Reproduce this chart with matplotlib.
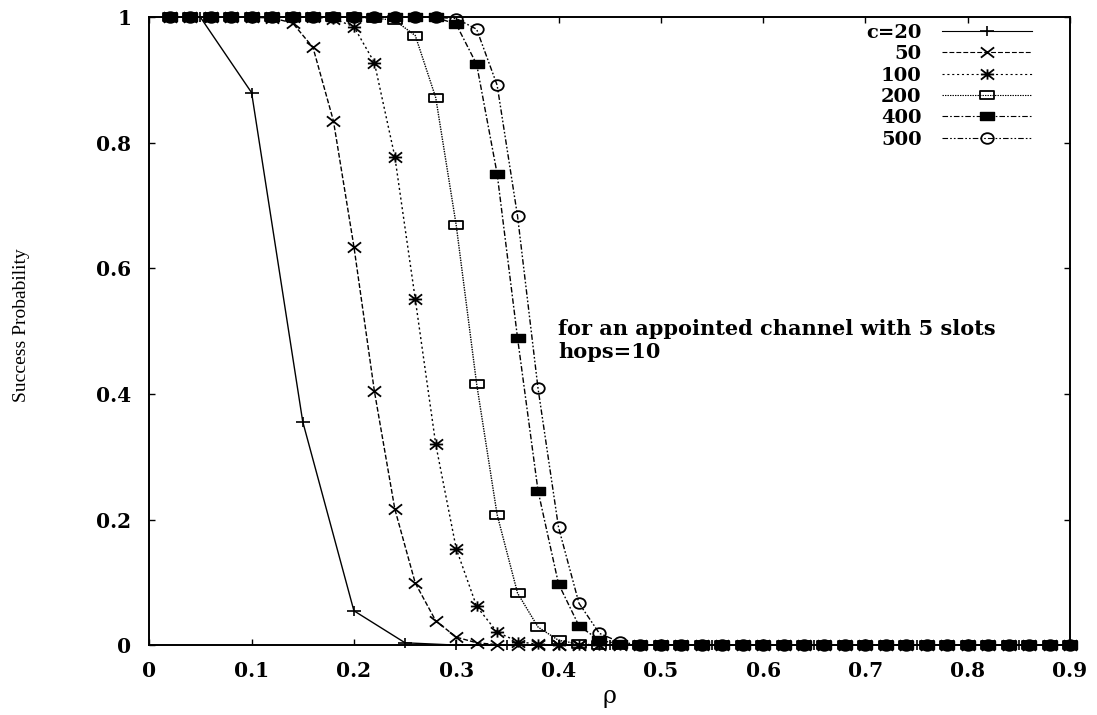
import numpy as np
import matplotlib
matplotlib.use("Agg")
import matplotlib.pyplot as plt
from matplotlib.path import Path
from matplotlib.transforms import Affine2D

# ---------------- data ----------------
rho_c20 = [0.05, 0.10, 0.15, 0.20, 0.25, 0.30, 0.35, 0.40, 0.45, 0.50,
           0.55, 0.60, 0.65, 0.70, 0.75, 0.80, 0.85, 0.90]
p_c20 = [1.0, 0.880, 0.356, 0.055, 0.004, 0.0003, 0.0, 0.0, 0.0, 0.0,
         0.0, 0.0, 0.0, 0.0, 0.0, 0.0, 0.0, 0.0]

rho = [0.02, 0.04, 0.06, 0.08, 0.10, 0.12, 0.14, 0.16, 0.18, 0.20,
       0.22, 0.24, 0.26, 0.28, 0.30, 0.32, 0.34, 0.36, 0.38, 0.40,
       0.42, 0.44, 0.46, 0.48, 0.50, 0.52, 0.54, 0.56, 0.58, 0.60,
       0.62, 0.64, 0.66, 0.68, 0.70, 0.72, 0.74, 0.76, 0.78, 0.80,
       0.82, 0.84, 0.86, 0.88, 0.90]

p_c50 = [1.0, 1.0, 1.0, 1.0, 1.0, 0.999, 0.991, 0.952, 0.835, 0.635,
         0.405, 0.217, 0.099, 0.039, 0.013, 0.004, 0.001, 0.0003, 0.0, 0.0,
         0.0, 0.0, 0.0, 0.0, 0.0, 0.0, 0.0, 0.0, 0.0, 0.0,
         0.0, 0.0, 0.0, 0.0, 0.0, 0.0, 0.0, 0.0, 0.0, 0.0,
         0.0, 0.0, 0.0, 0.0, 0.0]

p_c100 = [1.0, 1.0, 1.0, 1.0, 1.0, 1.0, 1.0, 1.0, 0.998, 0.985,
          0.928, 0.778, 0.551, 0.320, 0.154, 0.062, 0.021, 0.006, 0.0015, 0.0003,
          0.0, 0.0, 0.0, 0.0, 0.0, 0.0, 0.0, 0.0, 0.0, 0.0,
          0.0, 0.0, 0.0, 0.0, 0.0, 0.0, 0.0, 0.0, 0.0, 0.0,
          0.0, 0.0, 0.0, 0.0, 0.0]

p_c200 = [1.0, 1.0, 1.0, 1.0, 1.0, 1.0, 1.0, 1.0, 1.0, 1.0,
          0.999, 0.995, 0.971, 0.872, 0.669, 0.416, 0.208, 0.083, 0.029, 0.008,
          0.002, 0.0005, 0.0, 0.0, 0.0, 0.0, 0.0, 0.0, 0.0, 0.0,
          0.0, 0.0, 0.0, 0.0, 0.0, 0.0, 0.0, 0.0, 0.0, 0.0,
          0.0, 0.0, 0.0, 0.0, 0.0]

p_c400 = [1.0, 1.0, 1.0, 1.0, 1.0, 1.0, 1.0, 1.0, 1.0, 1.0,
          1.0, 1.0, 1.0, 1.0, 0.989, 0.925, 0.751, 0.489, 0.246, 0.098,
          0.031, 0.008, 0.002, 0.0004, 0.0, 0.0, 0.0, 0.0, 0.0, 0.0,
          0.0, 0.0, 0.0, 0.0, 0.0, 0.0, 0.0, 0.0, 0.0, 0.0,
          0.0, 0.0, 0.0, 0.0, 0.0]

p_c500 = [1.0, 1.0, 1.0, 1.0, 1.0, 1.0, 1.0, 1.0, 1.0, 1.0,
          1.0, 1.0, 1.0, 1.0, 0.998, 0.981, 0.892, 0.683, 0.409, 0.188,
          0.067, 0.019, 0.005, 0.001, 0.0002, 0.0, 0.0, 0.0, 0.0, 0.0,
          0.0, 0.0, 0.0, 0.0, 0.0, 0.0, 0.0, 0.0, 0.0, 0.0,
          0.0, 0.0, 0.0, 0.0, 0.0]

series_labels = ["c=20", "50", "100", "200", "400", "500"]
x_ticks = [0, 0.1, 0.2, 0.3, 0.4, 0.5, 0.6, 0.7, 0.8, 0.9]
x_tick_labels = ["0", "0.1", "0.2", "0.3", "0.4", "0.5", "0.6", "0.7", "0.8", "0.9"]
y_ticks = [0, 0.2, 0.4, 0.6, 0.8, 1.0]
y_tick_labels = ["0", "0.2", "0.4", "0.6", "0.8", "1"]

# ---------------- marker shapes (gnuplot-like, slightly stretched) ----------------
SX, SY = 1.0, 0.78
M, L = Path.MOVETO, Path.LINETO
plus_path = Path([(-SX, 0), (SX, 0), (0, -SY), (0, SY)], [M, L, M, L])
cross_path = Path([(-SX, -SY), (SX, SY), (-SX, SY), (SX, -SY)], [M, L, M, L])
star_path = Path([(-SX, 0), (SX, 0), (0, -SY), (0, SY),
                  (-SX, -SY), (SX, SY), (-SX, SY), (SX, -SY)],
                 [M, L, M, L, M, L, M, L])
rect_path = Path([(-1.0, -0.68), (1.0, -0.68), (1.0, 0.68), (-1.0, 0.68), (-1.0, -0.68)],
                 [M, L, L, L, Path.CLOSEPOLY])
ellipse_path = Path.unit_circle().transformed(Affine2D().scale(1.0, 0.85))

plt.rcParams["lines.scale_dashes"] = False

fig = plt.figure(figsize=(10.97, 7.15), dpi=100)
ax = fig.add_axes([149.3 / 1097, (715 - 645.3) / 715,
                   (1070.0 - 149.3) / 1097, (645.3 - 17.3) / 715])

lw = 1.0
common = dict(color="black", lw=lw, clip_on=False)
ax.plot(rho_c20, p_c20, linestyle="-", marker=plus_path, ms=9.5, mew=1.2,
        mfc="none", mec="black", label=series_labels[0], zorder=3, **common)
ax.plot(rho, p_c50, linestyle=(0, (3.5, 1.5)), marker=cross_path, ms=9.5, mew=1.3,
        mfc="none", mec="black", label=series_labels[1], zorder=4, **common)
ax.plot(rho, p_c100, linestyle=(0, (1.5, 2.0)), marker=star_path, ms=9.5, mew=1.3,
        mfc="none", mec="black", label=series_labels[2], zorder=5, **common)
ax.plot(rho, p_c200, linestyle=(0, (1.0, 0.8)), marker=rect_path, ms=9.5, mew=1.3,
        mfc="none", mec="black", label=series_labels[3], zorder=6, **common)
ax.plot(rho, p_c400, linestyle=(0, (4.0, 1.5, 1.2, 1.5)), marker=rect_path, ms=9.5, mew=1.0,
        mfc="black", mec="black", label=series_labels[4], zorder=8, **common)
ax.plot(rho, p_c500, linestyle=(0, (4.0, 1.5, 1.2, 1.5, 1.2, 1.5)), marker=ellipse_path,
        ms=9.0, mew=1.3, mfc="none", mec="black", label=series_labels[5], zorder=7, **common)

ax.set_xlim(0, 0.9)
ax.set_ylim(0, 1)
ax.set_xticks(x_ticks)
ax.set_xticklabels(x_tick_labels)
ax.set_yticks(y_ticks)
ax.set_yticklabels(y_tick_labels)

for t in ax.get_xticklabels() + ax.get_yticklabels():
    t.set_fontfamily("DejaVu Serif")
    t.set_fontweight("bold")
    t.set_fontsize(14.5)

ax.tick_params(axis="both", which="major", direction="in", length=4, width=1.0,
               top=True, right=True, colors="black")
ax.tick_params(axis="x", pad=11)
ax.tick_params(axis="y", pad=13)
for s in ax.spines.values():
    s.set_linewidth(1.4)
    s.set_color("black")

ax.set_xlabel("ρ", fontfamily="DejaVu Serif", fontsize=17)
ax.xaxis.set_label_coords(0.5, (645.3 - 703) / 628.0)
ax.xaxis.label.set_verticalalignment("baseline")

ax.set_ylabel("Success Probability", fontfamily="Liberation Serif", fontsize=14)
ax.yaxis.set_label_coords((22 - 149.3) / 920.7, 0.51)
ax.yaxis.label.set_verticalalignment("center")

ann_font = dict(fontfamily="DejaVu Serif", fontweight="bold", fontsize=15)
ax.text(0.4, 0.494, "for an appointed channel with 5 slots", va="baseline", ha="left", **ann_font)
ax.text(0.4, 0.457, "hops=10", va="baseline", ha="left", **ann_font)

leg = ax.legend(loc="upper right", bbox_to_anchor=((1031.7 - 149.3) / 920.7, (645.3 - 24) / 628.0),
                frameon=False, markerfirst=False, handlelength=4.63, handletextpad=1.03,
                labelspacing=0.17, borderpad=0, borderaxespad=0,
                prop=dict(family="DejaVu Serif", weight="bold", size=14))
for h in leg.get_lines():
    h.set_linewidth(0.8)

fig.savefig("out.png", dpi=100)
